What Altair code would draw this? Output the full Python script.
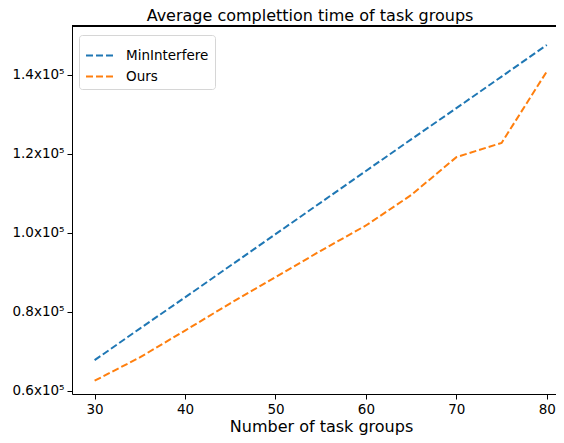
import altair as alt
import pandas as pd

groups = [30, 35, 40, 45, 50, 55, 60, 65, 70, 75, 80]
mininterfere = [67800, 75800, 83700, 91700, 99700, 107700, 115700, 123700, 131600, 139600, 147600]
ours = [62600, 68500, 75300, 82200, 88800, 95500, 101900, 109600, 119200, 122800, 140900]
series_names = ["MinInterfere", "Ours"]
x_ticks = [30, 40, 50, 60, 70, 80]
y_ticks = [60000, 80000, 100000, 120000, 140000]

rows = []
for g, a, b in zip(groups, mininterfere, ours):
    rows.append({"groups": g, "value": a, "series": series_names[0]})
    rows.append({"groups": g, "value": b, "series": series_names[1]})
df = pd.DataFrame(rows)

FONT = "DejaVu Sans"
W, H = 484, 368
PX_PER_UNIT = 9.044

lines = alt.Chart(df).mark_line(strokeDash=[7, 3], strokeWidth=2, clip=True).encode(
    x=alt.X("groups:Q",
            scale=alt.Scale(domain=[27.5, 27.5 + W / PX_PER_UNIT], nice=False, zero=False),
            axis=alt.Axis(values=x_ticks, title="Number of task groups",
                          titleX=249, titleY=37, titleBaseline="alphabetic",
                          titleAlign="center", titleAnchor="middle")),
    y=alt.Y("value:Q",
            scale=alt.Scale(domain=[59240, 152400], nice=False, zero=False),
            axis=alt.Axis(values=y_ticks, title=None,
                          labelExpr="format(datum.value/100000, '.1f') + 'x10\u2075'")),
    color=alt.Color("series:N",
                    scale=alt.Scale(domain=series_names, range=["#1f77b4", "#ff7f0e"]),
                    legend=alt.Legend(title=None, orient="none", legendX=7, legendY=9,
                                      symbolType="stroke", symbolDash=[7, 3],
                                      symbolStrokeWidth=2, symbolSize=729,
                                      labelFontSize=13.5, labelFont=FONT,
                                      labelOffset=12, rowPadding=-7,
                                      padding=6, strokeColor="#d6d6d6",
                                      fillColor="white", cornerRadius=3,
                                      labelColor="black")),
)

topline = alt.Chart(df).mark_rule(color="black", strokeWidth=1).encode(
    x=alt.value(0), x2=alt.value(W), y=alt.value(0)
)

chart = alt.layer(lines, topline).properties(
    width=W, height=H,
    title=alt.TitleParams("Average complettion time of task groups",
                          font=FONT, fontSize=16, fontWeight="normal",
                          color="black", anchor="middle", dx=-4, offset=2),
    autosize=alt.AutoSizeParams(type="none"),
    padding={"left": 64, "top": 18, "right": 0, "bottom": 41},
).configure_view(stroke=None).configure_axis(
    labelFont=FONT, labelFontSize=13.5, labelColor="black",
    titleFont=FONT, titleFontSize=16, titleFontWeight="normal", titleColor="black",
    domainColor="black", domainWidth=1, tickColor="black", tickSize=5,
    tickWidth=1, labelPadding=3, grid=False,
)

chart.save("out.html", embed_options={"renderer": "svg", "actions": False})
